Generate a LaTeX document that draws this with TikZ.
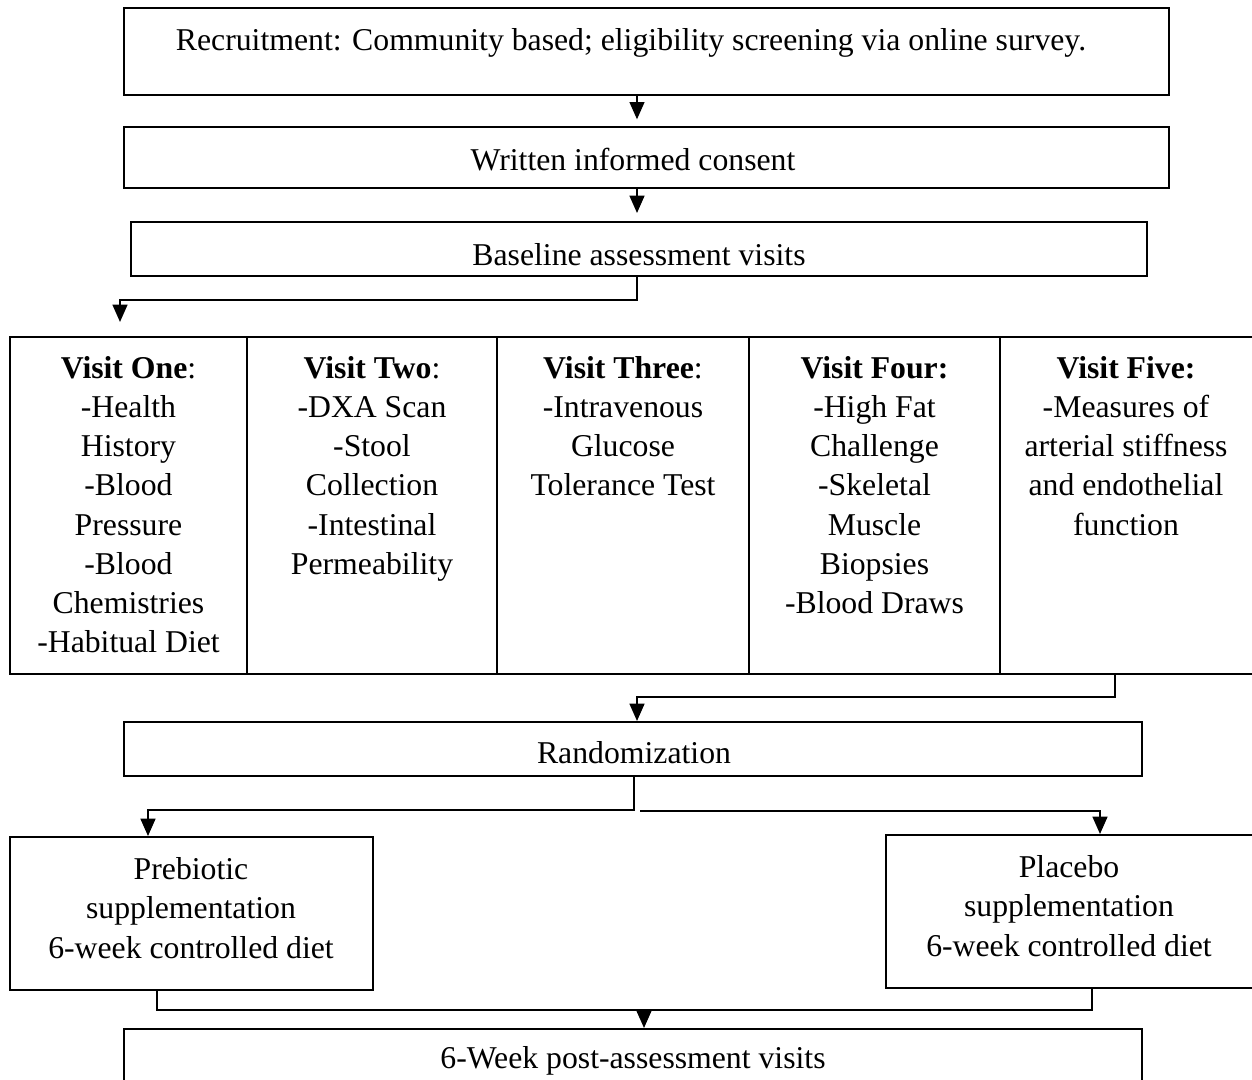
\documentclass[tikz,border=0pt]{standalone}
\usepackage{fontspec}
\setmainfont{Liberation Serif}
\usetikzlibrary{arrows.meta,fit}
\begin{document}
\begin{tikzpicture}[x=0.75pt,y=-0.75pt,
  box/.style={draw, line width=1.4pt, inner sep=0pt},
  txt/.style={inner sep=0pt, align=center, font=\fontsize{23.8pt}{29.4pt}\selectfont},
  link/.style={line width=1.7pt},
  arr/.style={link, -{Triangle[width=11pt,length=13pt]}}]
\useasboundingbox (0,0) rectangle (1252,1080);
\fill[white] (0,0) rectangle (1252,1080);

% boxes
\node[box, fit={(124,8) (1169,95)}] (b1) {};
\node[box, fit={(124,127) (1169,188)}] (b2) {};
\node[box, fit={(131,222) (1147,276)}] (b3) {};
\node[box, fit={(10,337) (247,674)}] (v1) {};
\node[box, fit={(247,337) (497,674)}] (v2) {};
\node[box, fit={(497,337) (749,674)}] (v3) {};
\node[box, fit={(749,337) (1000,674)}] (v4) {};
\node[box, fit={(1000,337) (1258,674)}] (v5) {};
\node[box, fit={(124,722) (1142,776)}] (rand) {};
\node[box, fit={(10,837) (373,990)}] (pre) {};
\node[box, fit={(886,835) (1254,988)}] (pla) {};
\node[box, fit={(124,1029) (1142,1095)}] (post) {};

% texts
\node[txt] (t1) at (631,43) {Recruitment: Community based; eligibility screening via online survey.};
\node[txt] (t2) at (633,160) {Written informed consent};
\node[txt] (t3) at (639,255) {Baseline assessment visits};
\node[txt, anchor=north] (tv1) at (128.5,356) {\textbf{Visit One}:\\-Health\\History\\-Blood\\Pressure\\-Blood\\Chemistries\\-Habitual Diet};
\node[txt, anchor=north] (tv2) at (372,356) {\textbf{Visit Two}:\\-DXA Scan\\-Stool\\Collection\\-Intestinal\\Permeability};
\node[txt, anchor=north] (tv3) at (623,356) {\textbf{Visit Three}:\\-Intravenous\\Glucose\\Tolerance Test};
\node[txt, anchor=north] (tv4) at (874.5,356) {\textbf{Visit Four:}\\-High Fat\\Challenge\\-Skeletal\\Muscle\\Biopsies\\-Blood Draws};
\node[txt, anchor=north] (tv5) at (1126,356) {\textbf{Visit Five:}\\-Measures of\\arterial stiffness\\and endothelial\\function};
\node[txt] (tr) at (634,753) {Randomization};
\node[txt] (tpre) at (191,908) {Prebiotic\\supplementation\\6-week controlled diet};
\node[txt] (tpla) at (1069,906) {Placebo\\supplementation\\6-week controlled diet};
\node[txt] (tpost) at (633,1061) {6-Week post-assessment visits};

% connector anchors
\coordinate (ax) at (637,0);
\coordinate (tipv) at (120,322);
\coordinate (xv5) at (1115,0);
\coordinate (xr) at (634,0);
\coordinate (xl) at (148,0);
\coordinate (xp) at (1100,0);
\coordinate (rs) at (640,811);
\coordinate (xpre) at (157,0);
\coordinate (xpla) at (1092,0);
\coordinate (xpost) at (644,0);

% connectors
\draw[arr, shorten >=5pt] (b1.south -| ax) -- (b2.north -| ax);
\draw[arr, shorten >=6pt] (b2.south -| ax) -- (b3.north -| ax);
\draw[arr] (b3.south -| ax) -- (ax |- 0,300) -| (tipv);
\draw[arr] (v5.south -| xv5) -- (xv5 |- 0,697) -| (rand.north -| ax);
\draw[arr] (rand.south -| xr) -- (xr |- 0,810) -| (pre.north -| xl);
\draw[arr] (rs) -| (pla.north -| xp);
\draw[link] (pre.south -| xpre) -- (xpre |- 0,1010) -- (xpost |- 0,1010);
\draw[link] (pla.south -| xpla) -- (xpla |- 0,1010) -- (xpost |- 0,1010);
\draw[arr] (xpost |- 0,1010) -- (post.north -| xpost);
\end{tikzpicture}
\end{document}
